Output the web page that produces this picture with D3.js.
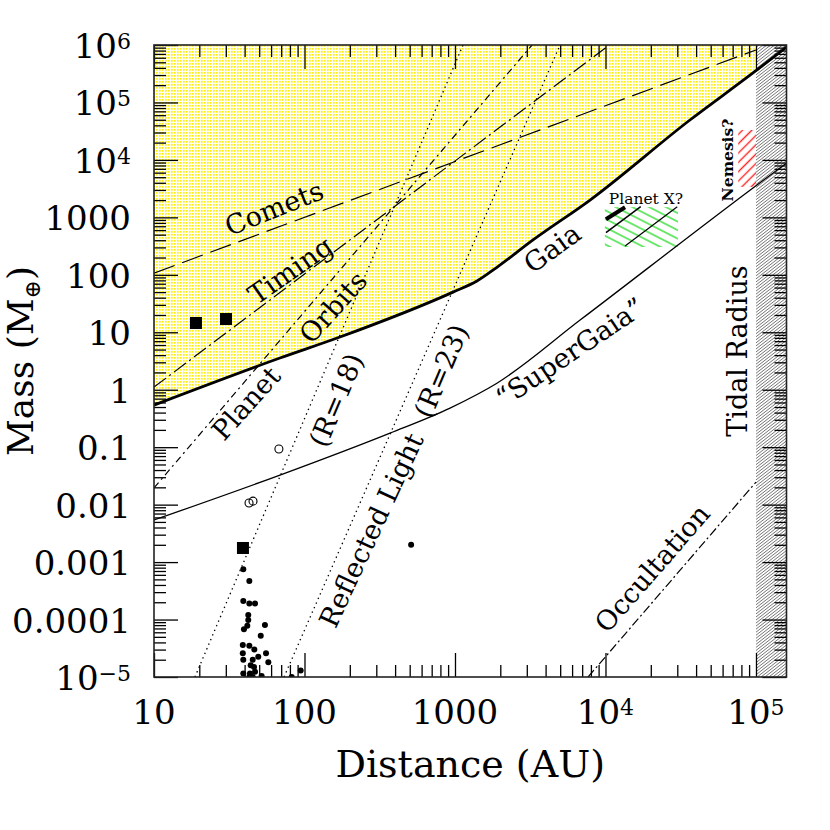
<!DOCTYPE html>
<html><head><meta charset="utf-8">
<script src="https://cdn.jsdelivr.net/npm/d3@7"></script>
<style>
body{margin:0;background:#fff}
svg{display:block}
text{font-family:"DejaVu Serif",serif;fill:#000}
</style>
</head><body>
<svg id="c" width="830" height="830"></svg>
<script>
// ---------------- data ----------------
const xDomain = [10, 159500];          // Distance (AU)
const yDomain = [1e-5, 1e6];           // Mass (Earth masses)

const xMajor = [10, 100, 1000, 1e4, 1e5];
const xTickText = ["10", "100", "1000", "10", "10"];
const xTickSup  = ["", "", "", "4", "5"];

const yMajor = [1e6, 1e5, 1e4, 1000, 100, 10, 1, 0.1, 0.01, 0.001, 1e-4, 1e-5];
const yTickText = ["10", "10", "10", "1000", "100", "10", "1", "0.1", "0.01", "0.001", "0.0001", "10"];
const yTickSup  = ["6", "5", "4", "", "", "", "", "", "", "", "", "\u22125"];

// Gaia limit (thick) and "SuperGaia" limit
const gaiaD = [10, 68.7, 172, 970, 1400, 1900, 3300, 7900, 36400, 95500, 159500];
const gaiaM = [0.54, 3.56, 8.26, 50, 78, 135, 404, 2000, 49500, 3.26e5, 9.2e5];
const superGaiaD = [10, 68.7, 370, 927, 1900, 6780, 95500, 159500];
const superGaiaM = [0.0054, 0.0327, 0.176, 0.48, 1.3, 16.3, 3240, 8830];

// straight constraint lines (two end points each)
const cometsD = [10, 1e5],     cometsM = [107, 8.2e5];
const timingD = [10, 10230],   timingM = [1.11, 9.3e5];
const orbitsD = [10, 3250],    orbitsM = [0.0195, 1e6];
const r18D = [18.7, 1130],     r18M = [1e-5, 1e6];
const r23D = [73.1, 4990],     r23M = [1e-5, 1e6];
const occD = [7660, 1e5],      occM = [1e-5, 0.0247];

// tidal radius
const tidalD = 1e5;

// Planet X region & lines, Nemesis region
const planetXRegionD = [9900, 30300], planetXRegionM = [305, 1510];
const planetXThickD = [10070, 13490], planetXThickM = [925, 1496];
const planetXLine1D = [10070, 17140], planetXLine1M = [541, 1532];
const planetXLine2D = [13490, 29990], planetXLine2M = [317, 1532];
const nemesisRegionD = [76200, 1e5], nemesisRegionM = [3390, 33100];

// solar system bodies
const squareD = [19.0, 30.1, 39.0];
const squareM = [14.5, 17.0, 0.00176];
const openD = [67.6, 42.8, 45.5];
const openM = [0.093, 0.0107, 0.0115];
const dotD = [39.2, 43.0, 39.2, 43.0, 46.9, 42.3, 42.3, 41.7, 39.6, 54.6, 51.2, 38.9, 43.0, 46.4, 38.9,
              55.5, 49.3, 39.2, 45.3, 57.5, 43.9, 46.2, 39.2, 43.4, 45.3, 51.9, 43.0, 82.2, 94.3, 46.9, 511];
const dotM = [7.5e-4, 4.7e-4, 2.1e-4, 1.9e-4, 1.9e-4, 1.2e-4, 9.8e-5, 7.8e-5, 6.8e-5, 8.0e-5, 5.2e-5, 3.6e-5, 3.5e-5, 3.0e-5, 2.6e-5,
              2.6e-5, 2.25e-5, 2.0e-5, 2.0e-5, 1.8e-5, 1.6e-5, 1.5e-5, 1.15e-5, 1.15e-5, 1.0e-5, 1.04e-5, 1.0e-5, 1.0e-5, 1.3e-5, 1.23e-5, 0.002];

// labels: text, distance, mass, angle
const labelText = ["Comets", "Timing", "Orbits", "Planet", "(R=18)", "(R=23)", "Reflected Light", "Gaia", "\u201CSuperGaia\u201D", "Occultation", "Tidal Radius"];
const labelD    = [62.7, 80.2, 154.5, 40.8, 161.8, 807, 276.6, 4416, 5808, 20370, 74800];
const labelM    = [1455, 121, 27.5, 0.587, 0.662, 2.12, 0.00361, 293, 4.53, 7.87e-4, 4.72];
const labelAng  = [-22, -35, -48, -48, -67, -67, -65, -36, -34, -49, -90];

// ---------------- chart ----------------
const svg = d3.select("#c");
const x = d3.scaleLog().domain(xDomain).range([154, 786.5]);
const y = d3.scaleLog().domain(yDomain).range([677, 45]);
const X0 = x.range()[0], X1 = x.range()[1], Y0 = y.range()[0], Y1 = y.range()[1];

const defs = svg.append("defs");
defs.append("clipPath").attr("id", "plotclip").append("rect")
  .attr("x", X0).attr("y", Y1).attr("width", X1 - X0).attr("height", Y0 - Y1);

// yellow dotted pattern
const yp = defs.append("pattern").attr("id", "yel").attr("patternUnits", "userSpaceOnUse")
  .attr("width", 3).attr("height", 3);
yp.append("rect").attr("width", 3).attr("height", 3).attr("fill", "#fffff2");
yp.append("rect").attr("x", 0).attr("y", 0).attr("width", 1.7).attr("height", 1.7).attr("fill", "#ffee10");

function hatch(id, angle, spacing, color, width, bg) {
  const p = defs.append("pattern").attr("id", id).attr("patternUnits", "userSpaceOnUse")
    .attr("width", 20).attr("height", spacing).attr("patternTransform", `rotate(${angle})`);
  if (bg) p.append("rect").attr("width", 20).attr("height", spacing).attr("fill", bg);
  p.append("line").attr("x1", 0).attr("x2", 20).attr("y1", spacing / 2).attr("y2", spacing / 2)
    .attr("stroke", color).attr("stroke-width", width);
}
hatch("tidal", -38, 2.4, "#666", 0.8, "#fff");
hatch("green", 27, 7.6, "#33dd33", 1.4, null);
hatch("red", -45, 6.6, "#ff2222", 1.4, null);

const plot = svg.append("g").attr("clip-path", "url(#plotclip)");

// yellow excluded region above Gaia curve
const gaiaPts = gaiaD.map((d, i) => [d, gaiaM[i]]);
const curve = d3.line().x(d => x(d[0])).y(d => y(d[1])).curve(d3.curveMonotoneX);
const areaGen = d3.area().x(d => x(d[0])).y0(Y1 - 5).y1(d => y(d[1])).curve(d3.curveMonotoneX);
plot.append("path").attr("d", areaGen(gaiaPts)).attr("fill", "url(#yel)");

// tidal radius hatch
plot.append("rect").attr("x", x(tidalD)).attr("y", Y1).attr("width", X1 - x(tidalD)).attr("height", Y0 - Y1)
  .attr("fill", "url(#tidal)");

// Planet X & Nemesis hatch
plot.append("rect").attr("x", x(planetXRegionD[0])).attr("y", y(planetXRegionM[1]))
  .attr("width", x(planetXRegionD[1]) - x(planetXRegionD[0]))
  .attr("height", y(planetXRegionM[0]) - y(planetXRegionM[1])).attr("fill", "url(#green)");
plot.append("rect").attr("x", x(nemesisRegionD[0])).attr("y", y(nemesisRegionM[1]))
  .attr("width", x(nemesisRegionD[1]) - x(nemesisRegionD[0]))
  .attr("height", y(nemesisRegionM[0]) - y(nemesisRegionM[1])).attr("fill", "url(#red)");

const seg = d3.line().x(d => x(d[0])).y(d => y(d[1]));
function drawSeg(D, M, dash, w) {
  plot.append("path").attr("d", seg(D.map((d, i) => [d, M[i]])))
    .attr("fill", "none").attr("stroke", "#000").attr("stroke-width", w)
    .attr("stroke-dasharray", dash);
}
drawSeg(cometsD, cometsM, "22,8", 1.2);
drawSeg(timingD, timingM, "15,4,2,4", 1.2);
drawSeg(orbitsD, orbitsM, "7,4,2,4", 1.2);
drawSeg(r18D, r18M, "1.4,3.6", 1.3);
drawSeg(r23D, r23M, "1.4,3.6", 1.3);
drawSeg(occD, occM, "9,3,2,3", 1.2);
drawSeg(planetXThickD, planetXThickM, null, 4);
drawSeg(planetXLine1D, planetXLine1M, null, 1.5);
drawSeg(planetXLine2D, planetXLine2M, null, 1.2);

plot.append("path").attr("d", curve(gaiaPts)).attr("fill", "none").attr("stroke", "#000").attr("stroke-width", 2.8)
  .attr("stroke-linejoin", "round");
plot.append("path").attr("d", curve(superGaiaD.map((d, i) => [d, superGaiaM[i]])))
  .attr("fill", "none").attr("stroke", "#000").attr("stroke-width", 1.3);

// points
plot.selectAll("rect.sq").data(squareD).join("rect").attr("class", "sq")
  .attr("x", (d, i) => x(d) - 6).attr("y", (d, i) => y(squareM[i]) - 6)
  .attr("width", 12).attr("height", 12).attr("fill", "#000");
plot.selectAll("circle.op").data(openD).join("circle").attr("class", "op")
  .attr("cx", d => x(d)).attr("cy", (d, i) => y(openM[i])).attr("r", 4)
  .attr("fill", "none").attr("stroke", "#000").attr("stroke-width", 1.1);
plot.selectAll("circle.dt").data(dotD).join("circle").attr("class", "dt")
  .attr("cx", d => x(d)).attr("cy", (d, i) => y(dotM[i])).attr("r", 3).attr("fill", "#000");

// in-plot labels
labelText.forEach((t, i) => {
  svg.append("text").attr("transform", `translate(${x(labelD[i])},${y(labelM[i])}) rotate(${labelAng[i]})`)
    .attr("text-anchor", "middle").attr("dy", "0.36em").attr("font-size", 27).text(t);
});
svg.append("text").attr("x", x(18580)).attr("y", y(2170)).attr("dy", "0.36em").attr("text-anchor", "middle")
  .attr("font-size", 15.5).text("Planet X?");
svg.append("text").attr("transform", `translate(${x(64100)},${y(9950)}) rotate(-90)`)
  .attr("text-anchor", "middle").attr("dy", "0.36em").attr("font-size", 15.5).attr("font-weight", "bold").text("Nemesis?");

// ticks
function minorVals(scale) {
  const [a, b] = scale.domain();
  const out = [];
  for (let e = Math.floor(Math.log10(a)); e <= Math.ceil(Math.log10(b)); e++)
    for (let k = 2; k <= 9; k++) { const v = k * Math.pow(10, e); if (v > a && v < b) out.push(v); }
  return out;
}
const ax = svg.append("g").attr("class", "axes");
function addAxis(axisFn, scale, vals, size, tx) {
  const g = ax.append("g").attr("transform", tx)
    .call(axisFn(scale).tickValues(vals).tickSize(size).tickFormat(""));
  g.select(".domain").remove();
  g.selectAll("line").attr("stroke", "#000").attr("stroke-width", 1.3);
}
const xMinor = minorVals(x), yMinor = minorVals(y);
addAxis(d3.axisBottom, x, xMajor, -24, `translate(0,${Y0})`);
addAxis(d3.axisBottom, x, xMinor, -12, `translate(0,${Y0})`);
addAxis(d3.axisTop, x, xMajor, -24, `translate(0,${Y1})`);
addAxis(d3.axisTop, x, xMinor, -12, `translate(0,${Y1})`);
addAxis(d3.axisLeft, y, yMajor, -24, `translate(${X0},0)`);
addAxis(d3.axisLeft, y, yMinor, -12, `translate(${X0},0)`);
addAxis(d3.axisRight, y, yMajor, -24, `translate(${X1},0)`);
addAxis(d3.axisRight, y, yMinor, -12, `translate(${X1},0)`);

// frame
svg.append("rect").attr("x", X0).attr("y", Y1).attr("width", X1 - X0).attr("height", Y0 - Y1)
  .attr("fill", "none").attr("stroke", "#222").attr("stroke-width", 1.6);

// tick labels
xMajor.forEach((v, i) => {
  const t = svg.append("text").attr("x", x(v)).attr("y", 724).attr("text-anchor", "middle").attr("font-size", 34);
  t.append("tspan").text(xTickText[i]);
  if (xTickSup[i]) t.append("tspan").attr("font-size", 22).attr("dy", -9).text(xTickSup[i]);
});
yMajor.forEach((v, i) => {
  const t = svg.append("text").attr("x", 131).attr("y", y(v) + 13).attr("text-anchor", "end").attr("font-size", 34);
  t.append("tspan").text(yTickText[i]);
  if (yTickSup[i]) t.append("tspan").attr("font-size", 22).attr("dy", -9).text(yTickSup[i]);
});

// axis titles
svg.append("text").attr("x", (X0 + X1) / 2).attr("y", 777).attr("text-anchor", "middle")
  .attr("font-size", 38).text("Distance (AU)");
const yt = svg.append("text").attr("transform", `translate(33,${(Y0 + Y1) / 2}) rotate(-90)`)
  .attr("text-anchor", "middle").attr("font-size", 36);
yt.append("tspan").text("Mass (M");
yt.append("tspan").attr("font-size", 22).attr("dy", 7).text("\u2295");
yt.append("tspan").attr("dy", -7).text(")");
</script>
</body></html>
